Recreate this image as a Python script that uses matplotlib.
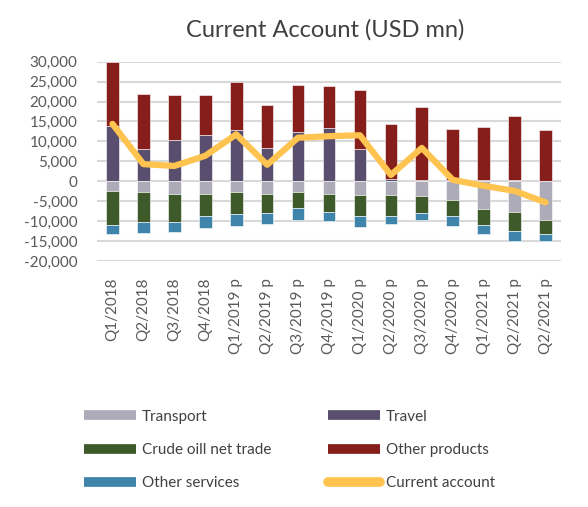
import numpy as np
import matplotlib.pyplot as plt
from matplotlib.lines import Line2D

plt.rcParams['font.family'] = ['Lato', 'DejaVu Sans']

quarters = ['Q1/2018', 'Q2/2018', 'Q3/2018', 'Q4/2018',
            'Q1/2019 p', 'Q2/2019 p', 'Q3/2019 p', 'Q4/2019 p',
            'Q1/2020 p', 'Q2/2020 p', 'Q3/2020 p', 'Q4/2020 p',
            'Q1/2021 p', 'Q2/2021 p', 'Q2/2021 p']

transport = [-2420, -2800, -3170, -3170, -2800, -3170, -2800, -3170,
             -3480, -3480, -3780, -4680, -6950, -7690, -9730]
travel = [13800, 8150, 10400, 11540, 12900, 8370, 12290, 13490,
          8150, 500, 200, 300, 400, 400, 0]
crude = [-8670, -7540, -6940, -5430, -5350, -4750, -3920, -4450,
         -5340, -5120, -4070, -4080, -4140, -4750, -3390]
other_products = [16100, 13850, 11230, 10090, 12120, 10770, 11910, 10410,
                  14770, 13980, 18350, 12730, 13240, 15890, 12740]
other_services = [-2100, -2560, -2650, -3160, -3160, -2870, -2870, -2270,
                  -2650, -2190, -1740, -2410, -2110, -2420, -1970]
current_account = [14400, 4300, 3850, 6400, 11760, 4140, 10930, 11310,
                   11540, 1580, 8370, 360, -1130, -2420, -5290]

c_transport = '#ADABB8'
c_travel = '#5A4E6E'
c_crude = '#3E5A2A'
c_other = '#861F1C'
c_serv = '#3F84AA'
c_ca = '#FFC44F'

fig = plt.figure(figsize=(5.88, 5.07), dpi=100)
ax = fig.add_axes([97/588, 1 - 261/507, (561-97)/588, (261-61.7)/507])

x = np.arange(len(quarters))
w = 0.41
tr = np.array(transport)
cr = np.array(crude)
ax.bar(x, travel, w, color=c_travel, edgecolor='white', linewidth=0.4, zorder=2)
ax.bar(x, other_products, w, bottom=travel, color=c_other, edgecolor='white', linewidth=0.4, zorder=2)
ax.bar(x, transport, w, color=c_transport, edgecolor='white', linewidth=0.4, zorder=2)
ax.bar(x, crude, w, bottom=tr, color=c_crude, edgecolor='white', linewidth=0.4, zorder=2)
ax.bar(x, other_services, w, bottom=tr + cr, color=c_serv, edgecolor='white', linewidth=0.4, zorder=2)
ax.plot(x, current_account, color=c_ca, lw=4.5, solid_capstyle='round', solid_joinstyle='round', zorder=3)

ax.set_xlim(-0.5, len(quarters) - 0.5)
ax.set_ylim(-20000, 30000)
ax.set_yticks(np.arange(-20000, 30001, 5000))
ax.set_yticklabels([f'{v:,}' for v in range(-20000, 30001, 5000)])
ax.set_xticks(x)
ax.set_xticklabels(quarters, rotation=90)
ax.tick_params(axis='both', length=0, labelsize=11, colors='#595959')
ax.tick_params(axis='x', pad=12)
ax.tick_params(axis='y', pad=14)
for s in ax.spines.values():
    s.set_visible(False)
ax.grid(axis='y', color='#D9D9D9', lw=1.5, zorder=0)
ax.set_axisbelow(True)

fig.text(0.553, 1 - 30/507, 'Current Account (USD mn)', ha='center', va='center',
         fontsize=17, color='#404040')

def h(c, cap='butt'):
    return Line2D([0], [0], color=c, lw=7, solid_capstyle=cap)

handles = [h(c_transport), h(c_crude), h(c_serv), h(c_travel), h(c_other), h(c_ca, 'round')]
labels = ['Transport', 'Crude oill net trade', 'Other services',
          'Travel', 'Other products', 'Current account']
fig.legend(handles, labels, ncol=2, loc='upper left', bbox_to_anchor=(70/588, 1 - 396/507),
           frameon=False, fontsize=11, handlelength=3.4, handletextpad=0.4,
           columnspacing=3.7, labelspacing=1.25, labelcolor='#404040')

fig.savefig('out.png', dpi=100)
